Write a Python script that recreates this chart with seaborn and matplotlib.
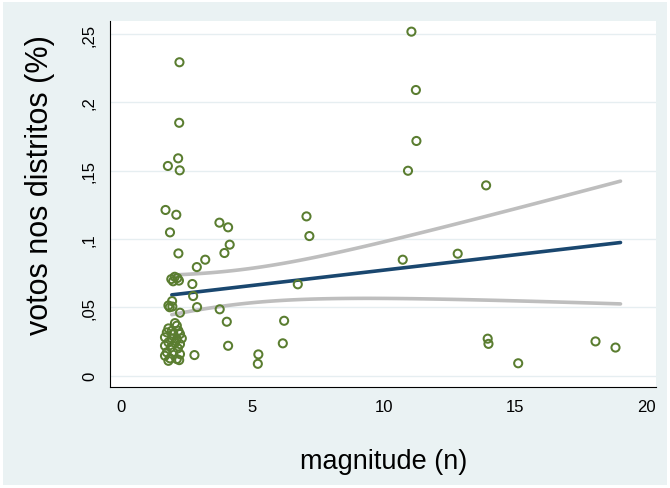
import numpy as np
import pandas as pd
import matplotlib
matplotlib.use("Agg")
import matplotlib.pyplot as plt
import seaborn as sns
from matplotlib.patches import Rectangle

# scatter data (district magnitude vs vote share)
magnitude = [
    11.05, 11.22, 11.24, 10.92, 13.89, 2.23, 2.22, 2.18, 1.79, 2.24,
    1.70, 2.11, 1.87, 3.75, 4.08, 4.14, 3.94, 2.19, 3.21, 2.89,
    1.92, 2.05, 2.15, 1.99, 2.21, 2.72, 6.73, 2.75, 1.95, 1.81,
    1.86, 1.96, 2.90, 2.25, 3.76, 4.03, 6.21,
    2.06, 2.13, 1.81, 1.94, 2.19, 1.75, 2.00, 2.25, 1.68, 1.94,
    2.13, 2.32, 1.81, 2.06, 2.25, 1.68, 1.91, 2.17, 1.75, 2.00,
    2.25, 1.68, 1.87, 2.13, 1.81, 2.22,
    4.08, 6.16, 2.80, 5.23, 5.21, 7.06, 7.17, 10.72, 12.81,
    13.95, 13.98, 15.11, 18.05, 18.81,
]
votos = [
    0.2517, 0.2090, 0.1717, 0.1499, 0.1392, 0.2293, 0.1850, 0.1590, 0.1534, 0.1502,
    0.1212, 0.1177, 0.1048, 0.1119, 0.1085, 0.0958, 0.0897, 0.0894, 0.0848, 0.0794,
    0.0706, 0.0723, 0.0714, 0.0690, 0.0695, 0.0670, 0.0668, 0.0582, 0.0545, 0.0513,
    0.0500, 0.0505, 0.0501, 0.0460, 0.0485, 0.0394, 0.0401,
    0.0384, 0.0365, 0.0345, 0.0328, 0.0328, 0.0316, 0.0304, 0.0304, 0.0280, 0.0272,
    0.0267, 0.0272, 0.0243, 0.0238, 0.0230, 0.0218, 0.0206, 0.0199, 0.0170, 0.0170,
    0.0157, 0.0145, 0.0126, 0.0121, 0.0108, 0.0113,
    0.0218, 0.0236, 0.0150, 0.0155, 0.0086, 0.1165, 0.1021, 0.0848, 0.0892,
    0.0270, 0.0232, 0.0090, 0.0250, 0.0205,
]

# span of the fitted line as drawn
fit_range = [1.94, 19.0]
t_crit = 1.992  # 95% t value, 75 df

x_ticks = [0, 5, 10, 15, 20]
y_ticks = [0, 0.05, 0.1, 0.15, 0.2, 0.25]
y_tick_labels = ["0", ",05", ",1", ",15", ",2", ",25"]

df = pd.DataFrame({"magnitude": magnitude, "votos": votos})

# linear fit with 95% CI of the mean prediction (like Stata lfitci)
x = df["magnitude"].to_numpy()
y = df["votos"].to_numpy()
n = len(x)
xbar, ybar = x.mean(), y.mean()
sxx = ((x - xbar) ** 2).sum()
b1 = ((x - xbar) * (y - ybar)).sum() / sxx
b0 = ybar - b1 * xbar
s = np.sqrt(((y - b0 - b1 * x) ** 2).sum() / (n - 2))
grid = np.linspace(fit_range[0], fit_range[1], 100)
pred = b0 + b1 * grid
se = s * np.sqrt(1 / n + (grid - xbar) ** 2 / sxx)
fit_df = pd.DataFrame({"x": grid, "fit": pred,
                       "lo": pred - t_crit * se, "hi": pred + t_crit * se})

sns.set_theme(style="white")
plt.rcParams["font.family"] = ["Liberation Sans", "DejaVu Sans"]

fig = plt.figure(figsize=(6.7, 4.89), dpi=100, facecolor="white")
fig.add_artist(Rectangle((3 / 670, 3 / 489), 664 / 670, 483 / 489,
                         transform=fig.transFigure, facecolor="#EAF2F3",
                         edgecolor="none", zorder=-1))
ax = fig.add_axes([109.5 / 670, 1 - 387.5 / 489, 546.5 / 670, 365.5 / 489])
ax.set_facecolor("white")

gray = "#BEBEBE"
sns.lineplot(data=fit_df, x="x", y="hi", color=gray, lw=2.6, ax=ax)
sns.lineplot(data=fit_df, x="x", y="lo", color=gray, lw=2.6, ax=ax)
sns.lineplot(data=fit_df, x="x", y="fit", color="#1A476F", lw=2.6, ax=ax)
sns.scatterplot(data=df, x="magnitude", y="votos", ax=ax, marker="o", s=34,
                color="#5A7D30", facecolor="none", edgecolor="#5A7D30",
                linewidth=1.45, zorder=3)

ax.set_xlim(-0.43, 20.35)
ax.set_ylim(-0.008, 0.2595)
ax.set_xticks(x_ticks)
ax.set_yticks(y_ticks)
ax.set_yticklabels(y_tick_labels)

ax.yaxis.grid(True, color="#E6EEF1", linewidth=1.0)
ax.xaxis.grid(False)
ax.set_axisbelow(True)
for side in ["top", "right"]:
    ax.spines[side].set_visible(False)
for side in ["left", "bottom"]:
    ax.spines[side].set_color("black")
    ax.spines[side].set_linewidth(0.8)

ax.tick_params(direction="out", length=5, width=0.8, color="black",
               labelsize=12, pad=4, labelcolor="black")
ax.tick_params(axis="y", labelrotation=90)
for lbl in ax.get_yticklabels():
    lbl.set_va("center")

ax.set_xlabel("magnitude (n)", fontsize=19.5, color="black")
ax.xaxis.set_label_coords(0.5014, -0.168)
ax.set_ylabel("votos nos distritos (%)", fontsize=22, color="black")
ax.yaxis.set_label_coords(-0.10, 0.553)

fig.savefig("out.png", dpi=100)
